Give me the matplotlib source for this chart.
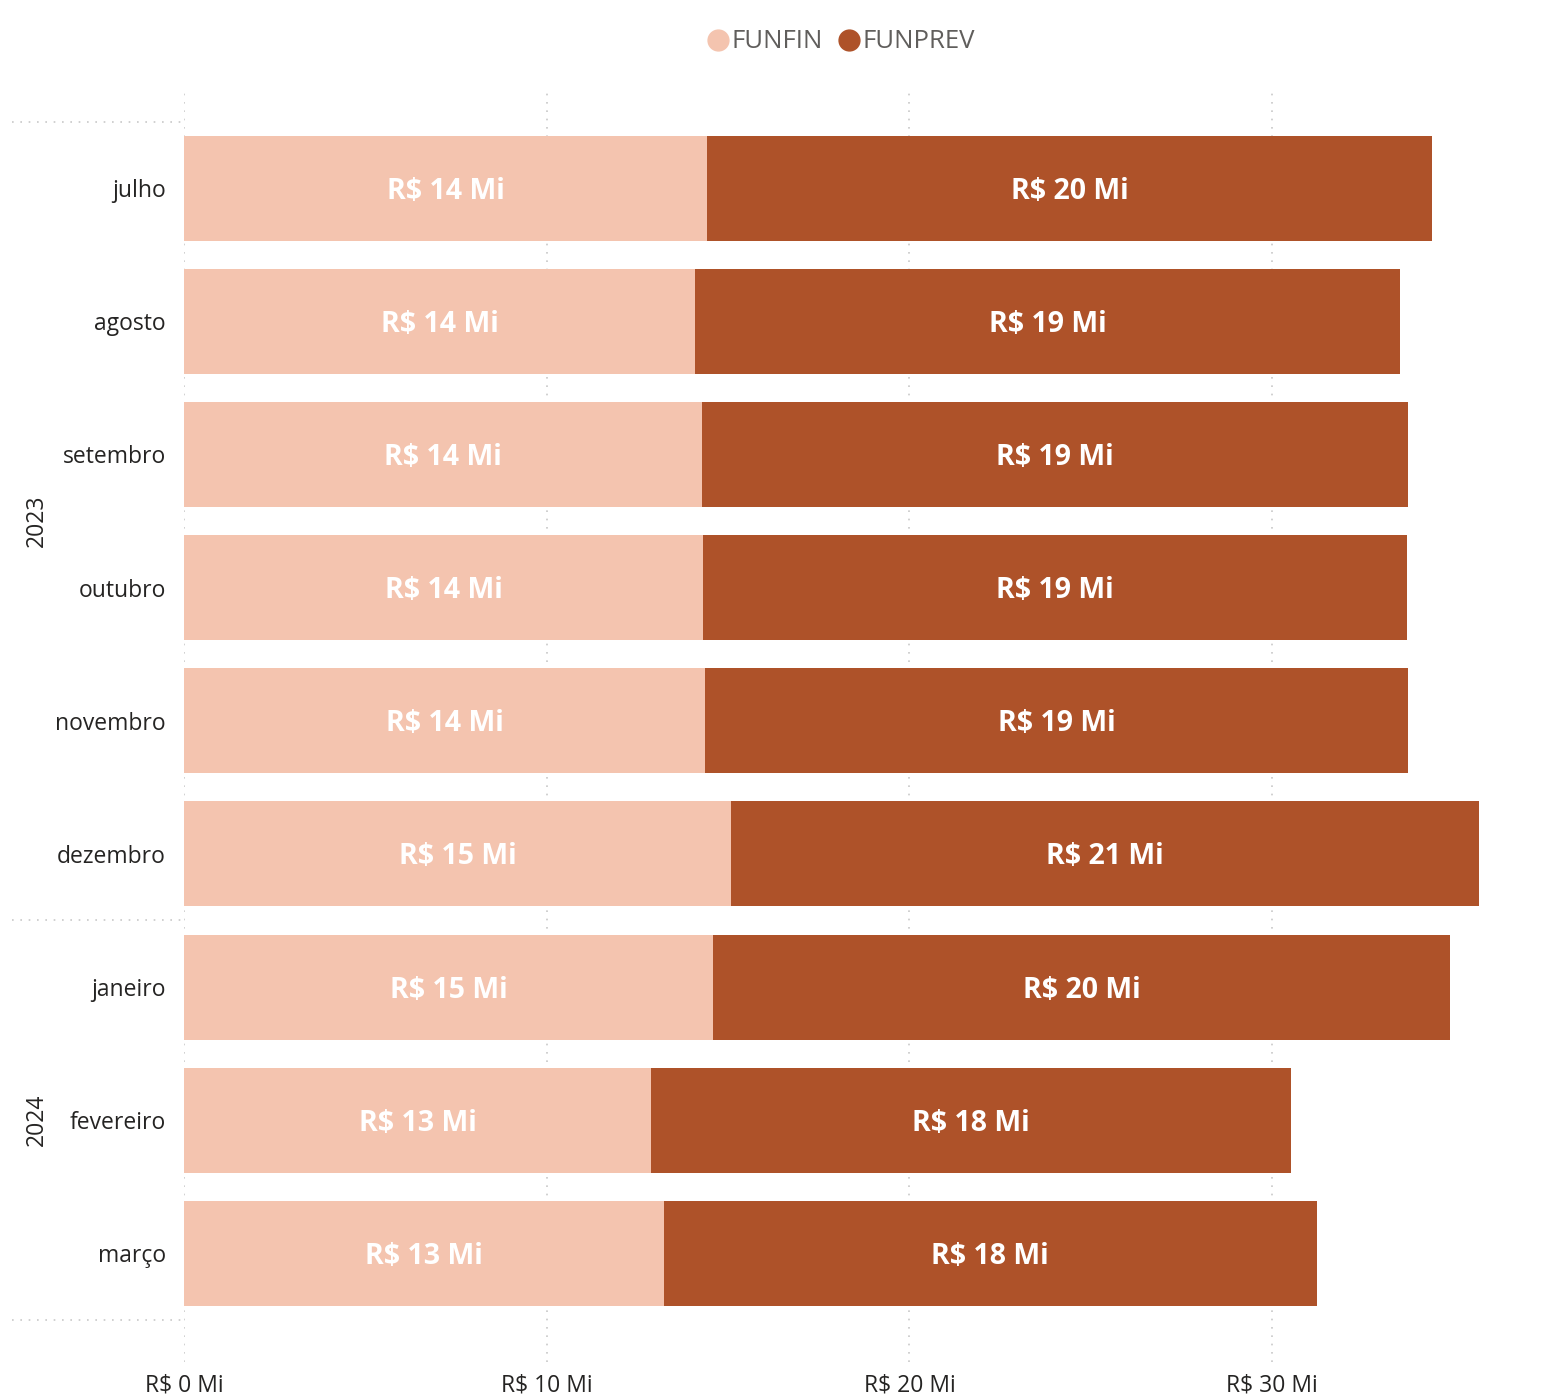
import matplotlib
matplotlib.use("Agg")
import matplotlib.pyplot as plt
from matplotlib.transforms import blended_transform_factory
from matplotlib.lines import Line2D

months = ["julho", "agosto", "setembro", "outubro", "novembro", "dezembro",
          "janeiro", "fevereiro", "março"]
years = ["2023", "2024"]
year_counts = [6, 3]
funfin = [14.42, 14.09, 14.28, 14.31, 14.36, 15.08, 14.59, 12.88, 13.23]
funprev = [19.99, 19.44, 19.45, 19.41, 19.39, 20.62, 20.32, 17.65, 18.00]
xticks = [0, 10, 20, 30]
series_names = ["FUNFIN", "FUNPREV"]
colors = ["#F4C4AF", "#AE5229"]

plt.rcParams['font.family'] = ['Open Sans', 'DejaVu Sans']

W, H = 1550, 1395
fig = plt.figure(figsize=(W / 100, H / 100), dpi=100)
left, right, top, bottom = 184, 1508, 90, 1362
ax = fig.add_axes([left / W, 1 - bottom / H, (right - left) / W, (bottom - top) / H])

y = list(range(len(months)))
bh = 105 / 133.1
ax.barh(y, funfin, height=bh, color=colors[0], zorder=2)
ax.barh(y, funprev, left=funfin, height=bh, color=colors[1], zorder=2)

dy = 0.022
for i in y:
    ax.text(funfin[i] / 2, i + dy, f"R$ {round(funfin[i]):.0f} Mi", ha="center", va="center",
            color="white", fontsize=20.5, fontweight="bold", zorder=3)
    ax.text(funfin[i] + funprev[i] / 2, i + dy, f"R$ {round(funprev[i]):.0f} Mi", ha="center",
            va="center", color="white", fontsize=20.5, fontweight="bold", zorder=3)

ax.set_xlim(0, 36.5)
ax.set_ylim(8.5 + 42 / 133.1, -0.5 - 31.5 / 133.1)
ax.set_xticks(xticks)
ax.set_xticklabels([f"R$ {t} Mi" for t in xticks], fontsize=16.5, color="#252423")
ax.set_yticks(y)
ax.set_yticklabels(months, fontsize=16.5, color="#252423")
ax.tick_params(axis="both", length=0)
ax.tick_params(axis="y", pad=13)
ax.tick_params(axis="x", pad=8)
for s in ax.spines.values():
    s.set_visible(False)
ax.grid(axis="x", color="#C8C8C8", linestyle=(0, (1, 4)), linewidth=1.2, zorder=0)
ax.set_axisbelow(True)

# hierarchical separators and year labels
trans = blended_transform_factory(ax.transAxes, ax.transData)
xl = (12 - left) / (right - left)
bounds = [-0.5]
for c in year_counts:
    bounds.append(bounds[-1] + c)
for b in bounds:
    ax.add_line(Line2D([xl, 0], [b, b], transform=trans, clip_on=False,
                       color="#C8C8C8", linestyle=(0, (1, 4)), linewidth=1.2))
xy = (37 - left) / (right - left)
for k, yr in enumerate(years):
    yc = (bounds[k] + bounds[k + 1]) / 2
    ax.text(xy, yc, yr, transform=trans, rotation=90, ha="center", va="center",
            fontsize=16.5, color="#252423")

# legend
handles = [Line2D([], [], marker="o", linestyle="", markersize=15, color=c) for c in colors]
fig.legend(handles, series_names, loc="center", bbox_to_anchor=(840 / W, 1 - 42 / H),
           ncol=2, frameon=False, fontsize=18.5, labelcolor="#605E5C",
           handletextpad=0.05, columnspacing=0.5, handlelength=1.0)

fig.savefig("out.png", dpi=100)
